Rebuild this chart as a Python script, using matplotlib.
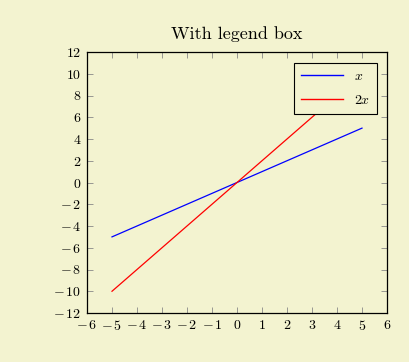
import numpy as np
import matplotlib.pyplot as plt
from matplotlib.ticker import FuncFormatter

plt.rcParams['font.family'] = 'serif'
plt.rcParams['font.serif'] = ['cmr10', 'DejaVu Serif']
plt.rcParams['mathtext.fontset'] = 'cm'
plt.rcParams['axes.unicode_minus'] = False

# datos
x = [-5, -4, -3, -2, -1, 0, 1, 2, 3, 4, 5]
y_x = [-5, -4, -3, -2, -1, 0, 1, 2, 3, 4, 5]
y_2x = [-10, -8, -6, -4, -2, 0, 2, 4, 6, 8, 10]
xticks = list(range(-6, 7))
yticks = list(range(-12, 13, 2))

bg = '#f3f3d0'
fig = plt.figure(figsize=(4.1, 3.62), dpi=100, facecolor=bg)
ax = fig.add_axes([87/410, 1 - 313/362, 300/410, 261/362])
ax.set_facecolor('none')

ax.plot(x, y_x, color='#0000ff', linewidth=0.9, label='$x$')
ax.plot(x, y_2x, color='#ff0000', linewidth=0.9, label='$2x$')

ax.set_xlim(-6, 6)
ax.set_ylim(-12, 12)
ax.set_xticks(xticks)
ax.set_yticks(yticks)
fmt = FuncFormatter(lambda v, p: '$%d$' % v if v >= 0 else r'$-\,%d$' % -v)
ax.xaxis.set_major_formatter(fmt)
ax.yaxis.set_major_formatter(fmt)
ax.tick_params(direction='in', top=True, right=True, length=4, width=0.6,
               color='#888888', labelsize=10, pad=4)
for s in ax.spines.values():
    s.set_linewidth(0.9)

ax.set_title('With legend box', fontsize=13, pad=9)

leg = ax.legend(loc='upper right', fancybox=False, framealpha=1,
                facecolor=bg, edgecolor='black', fontsize=10,
                handlelength=3.0, borderpad=0.5, labelspacing=0.8,
                bbox_to_anchor=(0.99, 0.985))
leg.get_frame().set_linewidth(0.8)
for h in leg.get_lines():
    h.set_linewidth(1.0)

plt.savefig('out.png', dpi=100, facecolor=bg)
